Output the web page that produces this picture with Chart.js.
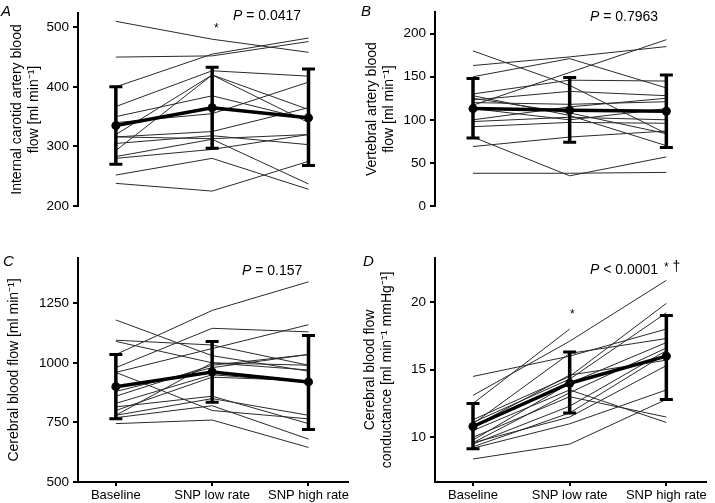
<!DOCTYPE html>
<html>
<head>
<meta charset="utf-8">
<script src="https://cdn.jsdelivr.net/npm/chart.js@4.4.1/dist/chart.umd.min.js"></script>
<style>
  body { margin: 0; background: #fff; width: 715px; height: 503px; position: relative; overflow: hidden;
         font-family: "Liberation Sans", Arial, sans-serif; }
  .pane { position: absolute; }
  .txt { position: absolute; font-size: 14px; line-height: 14px; color: #000; white-space: nowrap; }
  .lab { font-style: italic; font-size: 15px; line-height: 15px; }
  .star { font-size: 12px; line-height: 12px; }
</style>
</head>
<body>
<div class="pane" style="left:0;top:0;width:357px;height:245px"><canvas id="chartA" width="357" height="245"></canvas></div>
<div class="pane" style="left:357px;top:0;width:358px;height:245px"><canvas id="chartB" width="358" height="245"></canvas></div>
<div class="pane" style="left:0;top:245px;width:357px;height:258px"><canvas id="chartC" width="357" height="258"></canvas></div>
<div class="pane" style="left:357px;top:245px;width:358px;height:258px"><canvas id="chartD" width="358" height="258"></canvas></div>

<span class="txt lab" style="left:1px;top:3px">A</span>
<span class="txt lab" style="left:361px;top:3px">B</span>
<span class="txt lab" style="left:3px;top:253px">C</span>
<span class="txt lab" style="left:363px;top:253px">D</span>

<span class="txt" style="left:233px;top:8px"><i>P</i> = 0.0417</span>
<span class="txt star" style="left:214px;top:22px">*</span>
<span class="txt" style="left:590px;top:9px"><i>P</i> = 0.7963</span>
<span class="txt" style="left:242px;top:263px"><i>P</i> = 0.157</span>
<span class="txt" style="left:590px;top:262px"><i>P</i> &lt; 0.0001</span>
<span class="txt star" style="left:570px;top:308px">*</span>
<span class="txt" style="left:664px;top:259px"><span style="font-size:12px">*</span> †</span>

<script>
// x categories
const categories = ['Baseline', 'SNP low rate', 'SNP high rate'];

// A: internal carotid artery blood flow (ml/min), one row per subject
const icaSubjects = [
  [510, 480, 458], [450, 452, 476], [400, 455, 482], [367, 427, 418],
  [320, 420, 362], [293, 420, 340], [350, 385, 345], [340, 355, 408],
  [316, 325, 365], [305, 318, 303], [283, 312, 237], [280, 295, 320],
  [252, 280, 228], [238, 225, 275], [316, 313, 320]
];
const icaMean = [335, 365, 348];
const icaLow = [270, 297, 268];
const icaHigh = [400, 433, 430];
const icaTicks = [200, 300, 400, 500];

// B: vertebral artery blood flow (ml/min)
const vaSubjects = [
  [180, 140, 84], [163, 173, 185], [150, 171, 137], [117, 155, 193],
  [130, 146, 145], [128, 105, 70], [123, 133, 128], [120, 118, 121],
  [100, 115, 125], [98, 103, 100], [92, 97, 96], [80, 35, 57],
  [69, 80, 87], [38, 38, 39], [113, 100, 113], [125, 108, 84]
];
const vaMean = [113, 111, 110];
const vaLow = [79, 74, 68];
const vaHigh = [148, 149, 152];
const vaTicks = [0, 50, 100, 150, 200];

// C: cerebral blood flow (ml/min)
const cbfSubjects = [
  [1035, 1220, 1340], [1180, 1030, 965], [1095, 1075, 990], [1090, 1000, 970],
  [980, 1145, 1130], [960, 1060, 1160], [880, 980, 1035], [860, 990, 1035],
  [830, 950, 920], [815, 860, 745], [800, 940, 925], [780, 850, 780],
  [770, 820, 680], [745, 760, 645], [960, 800, 765], [780, 1000, 990]
];
const cbfMean = [900, 962, 920];
const cbfLow = [765, 835, 720];
const cbfHigh = [1035, 1090, 1115];
const cbfTicks = [500, 750, 1000, 1250];

// D: cerebral blood flow conductance (ml/min/mmHg)
const cvcSubjects = [
  [12.5, 18.0, null], [14.5, 16.0, 18.0], [13.1, 17.1, 21.6], [11.3, 14.5, 19.9],
  [11.1, 14.3, 19.2], [11.0, 16.2, 17.3], [10.5, 13.5, 11.1], [10.0, 13.0, 11.5],
  [9.8, 14.0, 17.0], [9.6, 13.3, 16.6], [9.5, 12.3, 16.4], [9.3, 11.8, 16.2],
  [9.6, 11.5, 15.3], [9.2, 11.0, 13.5], [8.4, 9.5, 12.8], [10.8, 14.6, 15.7]
];
const cvcMean = [10.8, 14.0, 16.0];
const cvcLow = [9.15, 11.8, 12.8];
const cvcHigh = [12.5, 16.3, 19.0];
const cvcTicks = [10, 15, 20];

Chart.defaults.font.family = '"Liberation Sans", Arial, sans-serif';
Chart.defaults.font.size = 13.5;
Chart.defaults.color = '#000';

function toPoints(values) {
  return values.map((v, i) => ({ x: i, y: v }));
}

function makePanel(id, p) {
  const datasets = [];

  // thin line per subject
  p.subjects.forEach(s => {
    datasets.push({ data: toPoints(s), borderColor: '#2a2a2a', borderWidth: 1, pointRadius: 0, order: 2 });
  });

  // group mean
  datasets.push({
    data: toPoints(p.mean), borderColor: '#000', borderWidth: 3.5,
    pointRadius: 4.5, pointBackgroundColor: '#000', pointBorderWidth: 0, order: 0
  });

  // error bars, caps drawn as 'line' points
  p.mean.forEach((m, i) => {
    datasets.push({
      data: [{ x: i, y: p.low[i] }, { x: i, y: p.high[i] }],
      borderColor: '#000', borderWidth: 3.5,
      pointStyle: 'line', pointRadius: 6.5, pointBorderWidth: 3, pointBorderColor: '#000', order: 1
    });
  });

  new Chart(document.getElementById(id), {
    type: 'line',
    data: { datasets: datasets },
    options: {
      responsive: false,
      animation: false,
      events: [],
      layout: { padding: { top: p.padTop, bottom: p.padBottom, left: 0, right: 2 } },
      plugins: { legend: { display: false }, tooltip: { enabled: false } },
      elements: { line: { tension: 0 } },
      scales: {
        x: {
          type: 'linear', min: -0.393, max: 2.405,
          display: p.showX,
          afterBuildTicks: s => { s.ticks = [0, 1, 2].map(v => ({ value: v })); },
          afterFit: s => { s.height = 21; },
          ticks: { callback: v => categories[v], padding: 2, maxRotation: 0, autoSkip: false, font: { size: 13 } },
          grid: { drawOnChartArea: false, tickLength: 4, color: '#000', lineWidth: 2 },
          border: { display: true, color: '#000', width: 2 }
        },
        y: {
          min: p.min, max: p.max,
          afterBuildTicks: s => { s.ticks = p.ticks.map(v => ({ value: v })); },
          afterFit: s => { s.width = 78; },
          ticks: { padding: 4, callback: v => String(v) },
          grid: { drawOnChartArea: false, tickLength: 5, color: '#000', lineWidth: 2 },
          border: { display: true, color: '#000', width: 2 },
          title: {
            display: true, text: p.title, color: '#000',
            font: { size: 14, lineHeight: 1.2 },
            padding: { top: p.titlePad, bottom: 0 }
          }
        }
      }
    }
  });
}

makePanel('chartA', {
  subjects: icaSubjects, mean: icaMean, low: icaLow, high: icaHigh, ticks: icaTicks,
  min: 200, max: 524, showX: false, padTop: 13, padBottom: 18, titlePad: 8.5,
  title: ['Internal carotid artery blood', 'flow [ml min\u207B\u00B9]']
});

makePanel('chartB', {
  subjects: vaSubjects, mean: vaMean, low: vaLow, high: vaHigh, ticks: vaTicks,
  min: 0, max: 225, showX: false, padTop: 3, padBottom: 18, titlePad: 6.5,
  title: ['Vertebral artery blood', 'flow [ml min\u207B\u00B9]']
});

makePanel('chartC', {
  subjects: cbfSubjects, mean: cbfMean, low: cbfLow, high: cbfHigh, ticks: cbfTicks,
  min: 500, max: 1440, showX: true, padTop: 13, padBottom: 0, titlePad: 5.5,
  title: 'Cerebral blood flow [ml min\u207B\u00B9]'
});

makePanel('chartD', {
  subjects: cvcSubjects, mean: cvcMean, low: cvcLow, high: cvcHigh, ticks: cvcTicks,
  min: 6.7, max: 23.25, showX: true, padTop: 13, padBottom: 0, titlePad: 4.5,
  title: ['Cerebral blood flow', 'conductance [ml min\u207B\u00B9 mmHg\u207B\u00B9]']
});
</script>
</body>
</html>
